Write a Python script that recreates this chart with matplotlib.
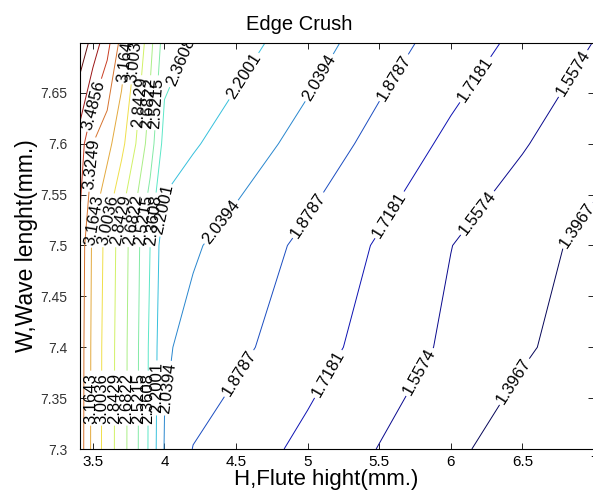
import numpy as np
import matplotlib.pyplot as plt
from matplotlib import colormaps

plt.rcParams['font.family'] = ['Liberation Sans', 'DejaVu Sans']

# grid: H (flute height) columns, W (wave length) rows
H = [3.4, 3.5, 3.6, 3.7, 3.8, 3.9, 4.0, 4.2, 4.5, 5.0, 5.5, 6.0, 6.5, 7.0]
W = [7.3, 7.4, 7.5, 7.6, 7.7]
ec_73 = [3.445, 3.111, 2.932, 2.754, 2.562, 2.324, 2.030, 1.874, 1.800, 1.678, 1.552, 1.432, 1.312, 1.192]
ec_74 = [3.450, 3.115, 2.935, 2.757, 2.565, 2.330, 2.060, 1.990, 1.914, 1.783, 1.653, 1.527, 1.419, 1.312]
ec_75 = [3.470, 3.130, 2.950, 2.770, 2.580, 2.360, 2.100, 2.058, 1.977, 1.840, 1.701, 1.560, 1.456, 1.353]
ec_76 = [3.593, 3.325, 3.218, 3.049, 2.843, 2.602, 2.300, 2.216, 2.127, 1.979, 1.826, 1.684, 1.569, 1.454]
ec_77 = [3.930, 3.755, 3.544, 3.271, 3.004, 2.736, 2.440, 2.347, 2.262, 2.112, 1.953, 1.808, 1.679, 1.555]

levels = [1.3967, 1.5574, 1.7181, 1.8787, 2.0394, 2.2001, 2.3608, 2.5215,
          2.6822, 2.8429, 3.0036, 3.1643, 3.3249, 3.4856, 3.6463, 3.8070]

# where the labels sit on each line
label_spots = {
    1.3967: [(6.40, 7.37), (6.88, 7.52)],
    1.5574: [(5.79, 7.375), (6.25, 7.525), (6.90, 7.665)],
    1.7181: [(5.19, 7.37), (5.63, 7.525), (6.15, 7.665)],
    1.8787: [(4.57, 7.37), (5.00, 7.53), (5.60, 7.665)],
    2.0394: [(4.01, 7.36), (4.38, 7.525), (5.08, 7.665)],
    2.2001: [(3.95, 7.36), (4.03, 7.535), (4.57, 7.665)],
    2.3608: [(3.89, 7.35), (3.93, 7.525), (4.12, 7.68)],
    2.5215: [(3.82, 7.35), (3.86, 7.525), (3.97, 7.64)],
    2.6822: [(3.74, 7.35), (3.78, 7.525), (3.92, 7.64)],
    2.8429: [(3.65, 7.35), (3.69, 7.525), (3.86, 7.64)],
    3.0036: [(3.56, 7.35), (3.60, 7.525), (3.80, 7.685)],
    3.1643: [(3.47, 7.35), (3.50, 7.525), (3.74, 7.685)],
    3.3249: [(3.47, 7.58)],
    3.4856: [(3.46, 7.64)],
}

Z = np.array([ec_73, ec_74, ec_75, ec_76, ec_77])

# jet over the level range, a bit washed out like the saved jpeg
lv = np.array(levels)
rgb = colormaps['jet']((lv - lv.min()) / (lv.max() - lv.min()))[:, :3]
luma = rgb @ np.array([0.299, 0.587, 0.114])
line_colors = 0.65 * rgb + 0.35 * luma[:, None]

fig = plt.figure(figsize=(5.93, 4.99), dpi=100)
ax = fig.add_axes([80 / 593, 50 / 499, 514 / 593, 406 / 499])

cs = ax.contour(H, W, Z, levels=levels, colors=[tuple(c) for c in line_colors],
                linewidths=0.7)
# set up label style, then put labels on one level at a time
cs.clabel(fmt='%.4f', fontsize=12, colors='k', manual=[])
for i, lvl in enumerate(levels):
    if lvl not in label_spots:
        continue
    cs.labelIndiceList = [i]
    for x, y in label_spots[lvl]:
        cs.add_label_near(x, y, inline=True, inline_spacing=2)

ax.set_xlim(3.41, 7.0)
ax.set_ylim(7.3, 7.699)
ax.set_xticks([3.5, 4, 4.5, 5, 5.5, 6, 6.5, 7])
ax.set_xticklabels(['3.5', '4', '4.5', '5', '5.5', '6', '6.5', '7'])
ax.set_yticks([7.3, 7.35, 7.4, 7.45, 7.5, 7.55, 7.6, 7.65])
ax.set_yticklabels(['7.3', '7.35', '7.4', '7.45', '7.5', '7.55', '7.6', '7.65'])
ax.tick_params(direction='in', top=True, right=True, length=4, width=0.6)
ax.tick_params(axis='x', labelsize=11, pad=4)
ax.tick_params(axis='y', labelsize=10, pad=9, labelcolor='#333333')
for sp in ax.spines.values():
    sp.set_linewidth(0.8)

ax.set_title('Edge Crush', fontsize=14.5, x=0.427, pad=9)
ax.set_xlabel('H,Flute hight(mm.)', fontsize=16)
ax.xaxis.set_label_coords(0.479, -0.05)
ax.set_ylabel('W,Wave lenght(mm.)', fontsize=16.5)
ax.yaxis.set_label_coords(-0.082, 0.5)

fig.savefig('out.png', dpi=100)
